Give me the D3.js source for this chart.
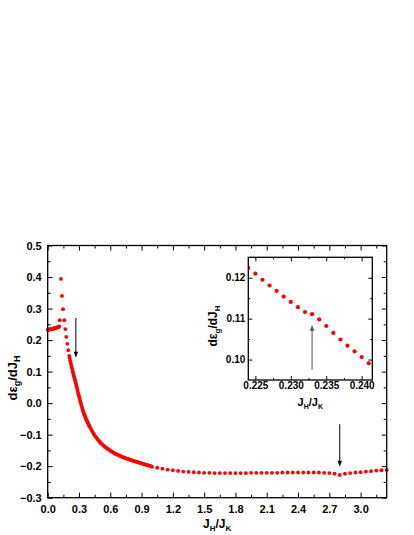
<!DOCTYPE html>
<html><head><meta charset="utf-8">
<script src="https://cdn.jsdelivr.net/npm/d3@7"></script>
<style>
html,body{margin:0;padding:0;background:#fff;}
svg{display:block;font-family:"Liberation Sans",Arial,sans-serif;font-weight:bold;}
</style></head>
<body>
<svg id="chart" width="414" height="535"></svg>
<script>
// ---------- data ----------
// flat low-J part (dense)
const lowX = [0,0.005,0.01,0.015,0.02,0.025,0.03,0.035,0.04,0.045,0.05,0.055,0.06,0.065,0.07,0.075,0.08,0.085,0.09,0.095,0.1,0.105,0.11];
const lowY = [0.233,0.233,0.233,0.2335,0.234,0.234,0.2345,0.235,0.235,0.2355,0.236,0.2365,0.237,0.2375,0.238,0.2385,0.239,0.2395,0.240,0.2405,0.241,0.242,0.243];
// isolated points of the peak
const peakX = [0.115,0.127,0.137,0.147,0.159,0.169,0.178,0.188,0.197,0.207];
const peakY = [0.263,0.394,0.340,0.298,0.263,0.235,0.210,0.188,0.168,0.150];
// steep decay (dense)
const steepX = [0.21,0.215,0.22,0.225,0.23,0.235,0.24,0.245,0.25,0.255,0.26,0.265,0.27,0.275,0.28,0.285,0.29,0.295,0.3,0.305,0.31,0.315,0.32,0.325,0.33,0.335,0.34,0.345,0.35,0.355,0.36,0.365,0.37,0.375,0.38,0.385,0.39,0.395,0.4];
const steepY = [0.144,0.136,0.128,0.121,0.114,0.108,0.1005,0.094,0.088,0.082,0.0755,0.069,0.063,0.056,0.049,0.042,0.035,0.0285,0.022,0.0155,0.009,0.003,-0.003,-0.009,-0.015,-0.0205,-0.026,-0.0305,-0.035,-0.0395,-0.044,-0.048,-0.052,-0.0555,-0.059,-0.0625,-0.066,-0.0695,-0.073];
// slow decay (dense)
const midX = [0.41,0.42,0.43,0.44,0.45,0.46,0.47,0.48,0.49,0.5,0.51,0.52,0.53,0.54,0.55,0.56,0.57,0.58,0.59,0.6,0.61,0.62,0.63,0.64,0.65,0.66,0.67,0.68,0.69,0.7,0.71,0.72,0.73,0.74,0.75,0.76,0.77,0.78,0.79,0.8,0.81,0.82,0.83,0.84,0.85,0.86,0.87,0.88,0.89,0.9,0.91,0.92,0.93,0.94,0.95,0.96,0.97,0.98,0.99];
const midY = [-0.079,-0.085,-0.091,-0.097,-0.102,-0.107,-0.111,-0.115,-0.119,-0.123,-0.127,-0.130,-0.133,-0.136,-0.139,-0.141,-0.144,-0.146,-0.148,-0.151,-0.153,-0.155,-0.157,-0.159,-0.161,-0.162,-0.164,-0.165,-0.167,-0.168,-0.170,-0.171,-0.172,-0.174,-0.175,-0.176,-0.177,-0.178,-0.180,-0.181,-0.182,-0.183,-0.184,-0.185,-0.186,-0.187,-0.188,-0.189,-0.190,-0.191,-0.192,-0.193,-0.194,-0.195,-0.196,-0.197,-0.198,-0.199,-0.200];
// sparse tail
const tailX = [1.0,1.05,1.1,1.15,1.2,1.25,1.3,1.35,1.4,1.45,1.5,1.55,1.6,1.65,1.7,1.75,1.8,1.85,1.9,1.95,2.0,2.05,2.1,2.15,2.2,2.25,2.3,2.35,2.4,2.45,2.5,2.55,2.6,2.65,2.7,2.75,2.8,2.85,2.9,2.95,3.0,3.05,3.1,3.15,3.2,3.25];
const tailY = [-0.202,-0.205,-0.208,-0.211,-0.213,-0.215,-0.217,-0.218,-0.219,-0.220,-0.221,-0.221,-0.222,-0.222,-0.222,-0.222,-0.222,-0.222,-0.222,-0.221,-0.221,-0.221,-0.221,-0.221,-0.221,-0.220,-0.220,-0.220,-0.220,-0.220,-0.220,-0.220,-0.220,-0.221,-0.222,-0.224,-0.228,-0.224,-0.222,-0.220,-0.219,-0.217,-0.216,-0.214,-0.213,-0.212];
// inset
const insetX = [0.224,0.225,0.226,0.227,0.228,0.229,0.230,0.231,0.232,0.233,0.234,0.235,0.236,0.237,0.238,0.239,0.240,0.241,0.242];
const insetY = [0.1224,0.1210,0.1195,0.1181,0.1168,0.1154,0.1141,0.1128,0.1116,0.1111,0.1098,0.1082,0.1065,0.1049,0.1034,0.1020,0.1006,0.0991,0.0978];
// ticks
const xMajor = [0,0.3,0.6,0.9,1.2,1.5,1.8,2.1,2.4,2.7,3.0];
const xMinor = [0.15,0.45,0.75,1.05,1.35,1.65,1.95,2.25,2.55,2.85,3.15];
const yMajor = [-0.3,-0.2,-0.1,0,0.1,0.2,0.3,0.4,0.5];
const yMinor = [-0.25,-0.15,-0.05,0.05,0.15,0.25,0.35,0.45];
const ixMajor = [0.225,0.230,0.235,0.240];
const ixMinor = [0.2275,0.2325,0.2375];
const iyMajor = [0.10,0.11,0.12];
const iyMinor = [0.105,0.115];
// arrows: [x, yStart, yEnd]
const mainArrows = [[0.27,0.27,0.144],[2.80,-0.067,-0.202]];
const insetArrow = [0.233,0.0975,0.1085];

// ---------- build ----------
const zip = (a,b)=>a.map((v,i)=>[v,b[i]]);
const mainData = [].concat(zip(lowX,lowY),zip(peakX,peakY),zip(steepX,steepY),zip(midX,midY),zip(tailX,tailY));
const insetData = zip(insetX,insetY);

const svg = d3.select("#chart");
const L=47.7,R=386.7,T=245.5,B=497.7;
const x = d3.scaleLinear([0,3.25],[L,R]);
const y = d3.scaleLinear([-0.3,0.5],[B,T]);

function frame(g, xs, ys, xMaj, xMin, yMaj, yMin, xfmt, yfmt, fs, padX, padY, maj, min){
  const [x0,x1]=xs.range(), [y0,y1]=ys.range();
  const bottom = g.append("g").attr("transform",`translate(0,${y0})`)
    .call(d3.axisBottom(xs).tickValues(xMaj).tickSize(-maj).tickSizeOuter(0).tickPadding(padX).tickFormat(xfmt));
  g.append("g").attr("transform",`translate(0,${y0})`)
    .call(d3.axisBottom(xs).tickValues(xMin).tickSize(-min).tickSizeOuter(0).tickFormat(""));
  g.append("g").attr("transform",`translate(0,${y1})`)
    .call(d3.axisTop(xs).tickValues(xMaj).tickSize(-maj).tickSizeOuter(0).tickFormat(""));
  g.append("g").attr("transform",`translate(0,${y1})`)
    .call(d3.axisTop(xs).tickValues(xMin).tickSize(-min).tickSizeOuter(0).tickFormat(""));
  const left = g.append("g").attr("transform",`translate(${x0},0)`)
    .call(d3.axisLeft(ys).tickValues(yMaj).tickSize(-maj).tickSizeOuter(0).tickPadding(padY).tickFormat(yfmt));
  g.append("g").attr("transform",`translate(${x0},0)`)
    .call(d3.axisLeft(ys).tickValues(yMin).tickSize(-min).tickSizeOuter(0).tickFormat(""));
  g.append("g").attr("transform",`translate(${x1},0)`)
    .call(d3.axisRight(ys).tickValues(yMaj).tickSize(-maj).tickSizeOuter(0).tickFormat(""));
  g.append("g").attr("transform",`translate(${x1},0)`)
    .call(d3.axisRight(ys).tickValues(yMin).tickSize(-min).tickSizeOuter(0).tickFormat(""));
  g.selectAll(".domain").remove();
  g.selectAll(".tick line").attr("stroke","#000").attr("stroke-width",1);
  g.selectAll(".tick text").attr("font-family","Liberation Sans, Arial, sans-serif")
    .attr("font-weight","bold").attr("font-size",fs).attr("fill","#000");
  g.append("rect").attr("x",x0).attr("y",y1).attr("width",x1-x0).attr("height",y0-y1)
    .attr("fill","none").attr("stroke","#000").attr("stroke-width",1.3);
}

function arrow(g, px, py0, py1, color){
  const dir = py1>py0 ? 1 : -1;
  g.append("line").attr("x1",px).attr("x2",px).attr("y1",py0).attr("y2",py1-dir*5)
    .attr("stroke",color).attr("stroke-width",1);
  g.append("path").attr("d",`M${px-2.2},${py1-dir*6}L${px+2.2},${py1-dir*6}L${px},${py1}Z`).attr("fill",color);
}

// main
const gMain = svg.append("g");
gMain.append("g").selectAll("circle").data(mainData).join("circle")
  .attr("cx",d=>x(d[0])).attr("cy",d=>y(d[1])).attr("r",1.9).attr("fill","#ff0000");
frame(gMain,x,y,xMajor,xMinor,yMajor,yMinor,d3.format(".1f"),d3.format(".1f"),11,8,6,5,3);
mainArrows.forEach(a=>arrow(gMain,x(a[0]),y(a[1]),y(a[2]),"#000"));

// main axis labels
const xl = svg.append("text").attr("x",(L+R)/2).attr("y",528).attr("text-anchor","middle")
  .attr("font-size",12).attr("font-weight","bold");
xl.append("tspan").text("J");
xl.append("tspan").attr("font-size",8).attr("dy",3).text("H");
xl.append("tspan").attr("dy",-3).text("/J");
xl.append("tspan").attr("font-size",8).attr("dy",3).text("K");

const yl = svg.append("text").attr("transform",`translate(17,378) rotate(-90)`).attr("text-anchor","middle")
  .attr("font-size",13).attr("font-weight","bold");
yl.append("tspan").text("dε");
yl.append("tspan").attr("font-size",9).attr("dy",3).text("g");
yl.append("tspan").attr("dy",-3).text("/dJ");
yl.append("tspan").attr("font-size",9).attr("dy",3).text("H");

// inset
const IL=248.3,IR=372.3,IT=257.3,IB=380;
const ix = d3.scaleLinear([0.224,0.2415],[IL,IR]);
const iy = d3.scaleLinear([0.095,0.125],[IB,IT]);
const gIn = svg.append("g");
gIn.append("rect").attr("x",IL).attr("y",IT).attr("width",IR-IL).attr("height",IB-IT).attr("fill","#fff");
const clip = svg.append("clipPath").attr("id","ic").append("rect").attr("x",IL).attr("y",IT).attr("width",IR-IL).attr("height",IB-IT);
gIn.append("g").attr("clip-path","url(#ic)").selectAll("circle").data(insetData).join("circle")
  .attr("cx",d=>ix(d[0])).attr("cy",d=>iy(d[1])).attr("r",2.1).attr("fill","#ff0000");
frame(gIn,ix,iy,ixMajor,ixMinor,iyMajor,iyMinor,d3.format(".3f"),d3.format(".2f"),10,2,3,4,2);
arrow(gIn,ix(insetArrow[0]),iy(insetArrow[1]),iy(insetArrow[2]),"#555");

const ixl = svg.append("text").attr("x",(IL+IR)/2).attr("y",406).attr("text-anchor","middle")
  .attr("font-size",11).attr("font-weight","bold");
ixl.append("tspan").text("J");
ixl.append("tspan").attr("font-size",7).attr("dy",3).text("H");
ixl.append("tspan").attr("dy",-3).text("/J");
ixl.append("tspan").attr("font-size",7).attr("dy",3).text("K");

const iyl = svg.append("text").attr("transform",`translate(217,326) rotate(-90)`).attr("text-anchor","middle")
  .attr("font-size",12).attr("font-weight","bold");
iyl.append("tspan").text("dε");
iyl.append("tspan").attr("font-size",8).attr("dy",3).text("g");
iyl.append("tspan").attr("dy",-3).text("/dJ");
iyl.append("tspan").attr("font-size",8).attr("dy",3).text("H");
</script>
</body></html>
